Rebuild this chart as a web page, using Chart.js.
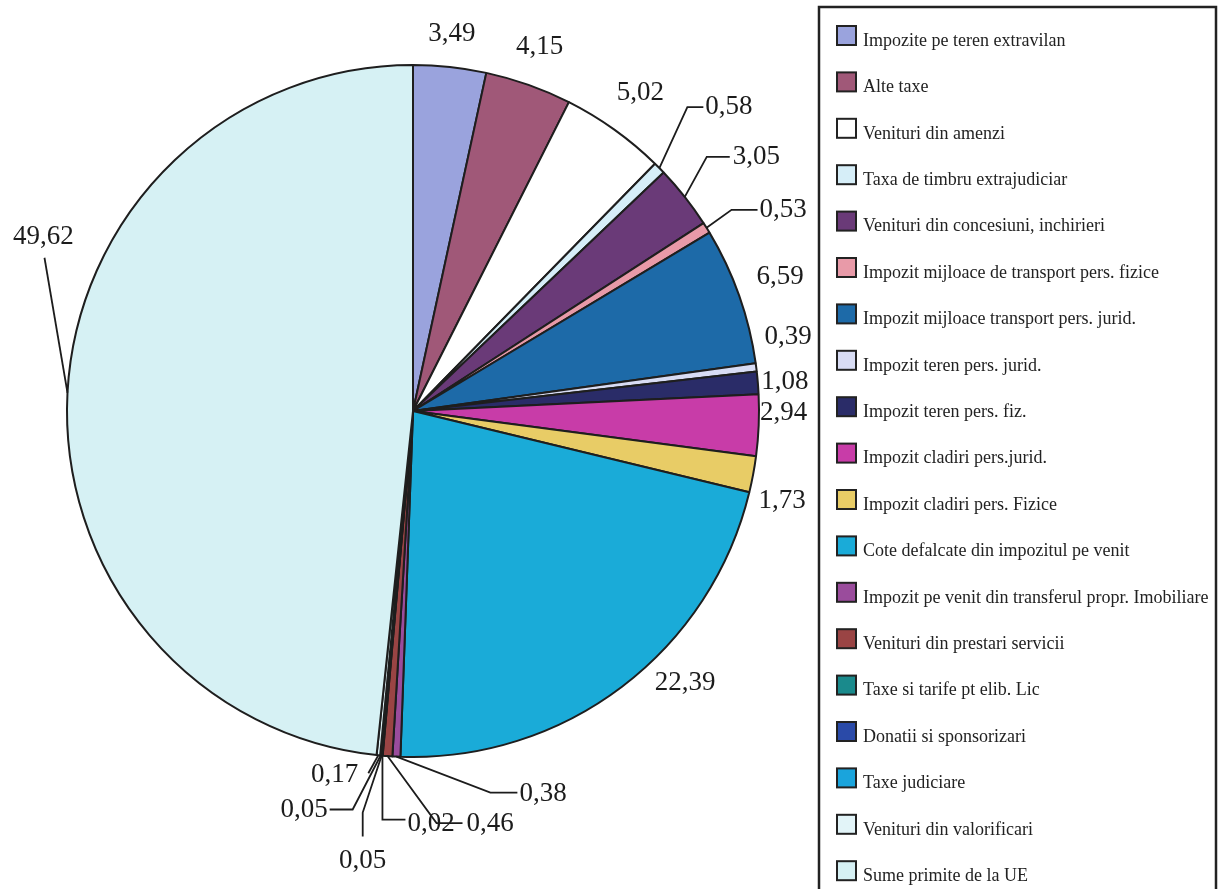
<!DOCTYPE html>
<html>
<head>
<meta charset="utf-8">
<script src="https://cdn.jsdelivr.net/npm/chart.js@4.4.0/dist/chart.umd.min.js"></script>
<style>
  html, body { margin: 0; padding: 0; background: #ffffff; }
  #wrap { width: 1220px; height: 889px; position: relative; }
</style>
</head>
<body>
<div id="wrap"><canvas id="c" width="1220" height="889"></canvas></div>
<script>
// ---- data ----
const categories = [
  'Impozite pe teren extravilan',
  'Alte taxe',
  'Venituri din amenzi',
  'Taxa de timbru extrajudiciar',
  'Venituri din concesiuni, inchirieri',
  'Impozit mijloace de transport pers. fizice',
  'Impozit mijloace transport pers. jurid.',
  'Impozit teren pers. jurid.',
  'Impozit teren pers. fiz.',
  'Impozit cladiri pers.jurid.',
  'Impozit cladiri pers. Fizice',
  'Cote defalcate din impozitul pe venit',
  'Impozit pe venit din transferul propr. Imobiliare',
  'Venituri din prestari servicii',
  'Taxe si tarife pt elib. Lic',
  'Donatii si sponsorizari',
  'Taxe judiciare',
  'Venituri din valorificari',
  'Sume primite de la UE'
];
const shares = [3.49, 4.15, 5.02, 0.58, 3.05, 0.53, 6.59, 0.39, 1.08, 2.94, 1.73, 22.39, 0.38, 0.46, 0.02, 0.05, 0.05, 0.17, 49.62];
const sliceColors = ['#9aa3dd','#a05878','#ffffff','#d6eef8','#6a3a78','#e89aa8','#1d6aa8','#d8dcf4','#2a2c68','#c83ca8','#e8cc66','#1aabd8','#9a4c9c','#9a4444','#1a8a8c','#2a4aa8','#1aa4dc','#e2f4f8','#d6f1f4'];

// ---- label placement (offsets from the slice's outer mid point) ----
const labelLayout = [
  { tx: 2,  ty: -33 },
  { tx: 11, ty: -38 },
  { tx: 26, ty: -37 },
  { path: [[28,-61],[44,-61]], align: 'left', tx: 46, ty: -61 },
  { path: [[22,-40],[45,-40]], align: 'left', tx: 48, ty: -40 },
  { path: [[25,-18],[51,-18]], align: 'left', tx: 53, ty: -18 },
  { tx: 41, ty: -19 },
  { tx: 32, ty: -30 },
  { tx: 27, ty: -1 },
  { tx: 25, ty: -12 },
  { tx: 29, ty: 26 },
  { tx: 63, ty: -4 },
  { path: [[94,36],[121,36]], align: 'left', tx: 123, ty: 37 },
  { path: [[49,67],[75,67]], align: 'left', tx: 79, ty: 68 },
  { path: [[0,64],[23,64]], align: 'left', tx: 25, ty: 68 },
  { path: [[-19,57],[-19,81]], align: 'center', tx: -19, ty: 105 },
  { path: [[-28,54],[-51,54]], align: 'right', tx: -53, ty: 54 },
  { path: [[-10,18]], align: 'right', tx: -20, ty: 20 },
  { path: [[-23,-135]], align: 'center', tx: -24, ty: -156 }
];

function fmt(v) { return v.toFixed(2).replace('.', ','); }

const sliceLabels = {
  id: 'sliceLabels',
  afterDatasetsDraw(chart) {
    const ctx = chart.ctx;
    const meta = chart.getDatasetMeta(0);
    const vals = chart.data.datasets[0].data;
    ctx.save();
    ctx.font = '27px "Liberation Serif", "Times New Roman", serif';
    ctx.fillStyle = '#1c1c1c';
    ctx.strokeStyle = '#1c1c1c';
    ctx.lineWidth = 1.8;
    meta.data.forEach((arc, i) => {
      const p = arc.getProps(['x','y','startAngle','endAngle','outerRadius'], true);
      const mid = (p.startAngle + p.endAngle) / 2;
      const ex = p.x + Math.cos(mid) * p.outerRadius;
      const ey = p.y + Math.sin(mid) * p.outerRadius;
      const L = labelLayout[i];
      if (L.path) {
        ctx.beginPath();
        ctx.moveTo(ex, ey);
        L.path.forEach(([dx, dy]) => ctx.lineTo(ex + dx, ey + dy));
        ctx.stroke();
      }
      ctx.textAlign = L.align || 'center';
      ctx.textBaseline = 'middle';
      ctx.fillText(fmt(vals[i]), ex + L.tx, ey + L.ty);
    });
    ctx.restore();
  }
};

const boxLegend = {
  id: 'boxLegend',
  afterDraw(chart) {
    const ctx = chart.ctx;
    const labels = chart.data.labels;
    const colors = chart.data.datasets[0].backgroundColor;
    ctx.save();
    ctx.strokeStyle = '#222';
    ctx.lineWidth = 2.5;
    ctx.beginPath();
    ctx.moveTo(819, 895);
    ctx.lineTo(819, 7);
    ctx.lineTo(1216, 7);
    ctx.lineTo(1216, 895);
    ctx.stroke();
    ctx.font = '18px "Liberation Serif", "Times New Roman", serif';
    ctx.textAlign = 'left';
    ctx.textBaseline = 'middle';
    labels.forEach((lab, i) => {
      const cy = 35 + i * 46.4;
      ctx.fillStyle = colors[i];
      ctx.fillRect(837, cy - 9, 19, 19);
      ctx.lineWidth = 2;
      ctx.strokeStyle = '#222';
      ctx.strokeRect(837, cy - 9, 19, 19);
      ctx.fillStyle = '#222';
      ctx.fillText(lab, 863, cy + 6);
    });
    ctx.restore();
  }
};

new Chart(document.getElementById('c'), {
  type: 'pie',
  data: {
    labels: categories,
    datasets: [{
      data: shares,
      backgroundColor: sliceColors,
      borderColor: '#1e1e1e',
      borderWidth: 2
    }]
  },
  options: {
    responsive: false,
    animation: false,
    devicePixelRatio: 1,
    radius: 346,
    layout: { padding: { left: 55, right: 449, top: 53, bottom: 120 } },
    plugins: {
      legend: { display: false },
      tooltip: { enabled: false },
      title: { display: false }
    }
  },
  plugins: [sliceLabels, boxLegend]
});
</script>
</body>
</html>
